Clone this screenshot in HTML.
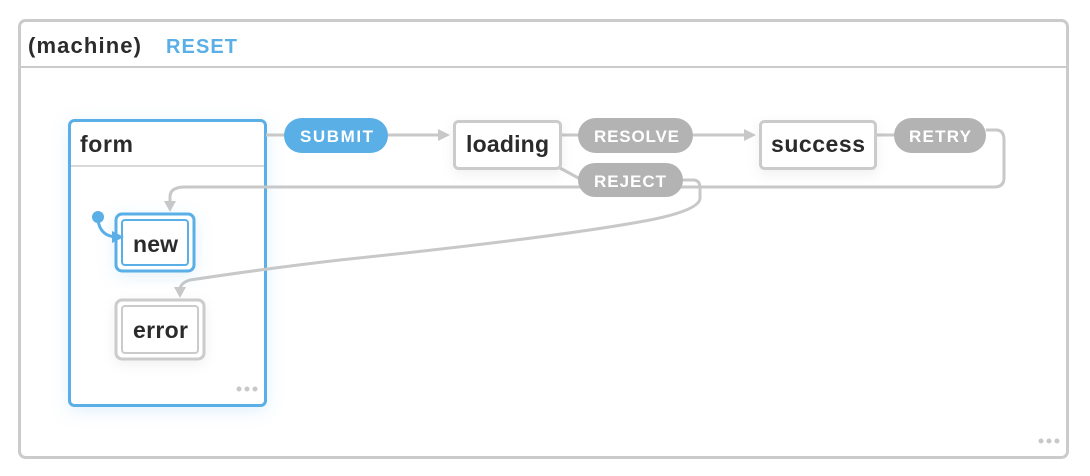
<!DOCTYPE html>
<html><head><meta charset="utf-8"><style>
html,body{margin:0;padding:0;background:#fff;width:1090px;height:476px;overflow:hidden}
svg text{font-family:"Liberation Sans",Arial,sans-serif;font-weight:bold}
</style></head><body>
<svg width="1090" height="476" viewBox="0 0 1090 476" xmlns="http://www.w3.org/2000/svg">
<defs>
<filter id="sh" x="-30%" y="-30%" width="160%" height="160%"><feDropShadow dx="0" dy="4" stdDeviation="6" flood-color="#000" flood-opacity="0.06"/></filter>
<filter id="shb" x="-30%" y="-30%" width="160%" height="160%"><feDropShadow dx="0" dy="4" stdDeviation="8" flood-color="#5aafe6" flood-opacity="0.18"/></filter>
</defs>
<rect x="19.5" y="20.5" width="1048" height="437" rx="6" fill="#fff" stroke="#cbcbcb" stroke-width="3"/>
<line x1="20" y1="67" x2="1067" y2="67" stroke="#cbcbcb" stroke-width="2"/>
<text x="28" y="53" font-size="22" fill="#2b2b2b" textLength="113">(machine)</text>
<text x="166" y="53" font-size="20" fill="#5aafe6" textLength="71">RESET</text>
<circle cx="1041" cy="441" r="2.5" fill="#c8c8c8"/><circle cx="1049" cy="441" r="2.5" fill="#c8c8c8"/><circle cx="1057" cy="441" r="2.5" fill="#c8c8c8"/>

<rect x="69.5" y="120.5" width="196" height="285" rx="5" fill="#fff" stroke="#5aafe6" stroke-width="3" filter="url(#shb)"/>
<line x1="71" y1="166" x2="264" y2="166" stroke="#cbcbcb" stroke-width="1.5"/>
<text x="80" y="152" font-size="23" fill="#2b2b2b" textLength="53">form</text>
<circle cx="239" cy="389" r="2.5" fill="#c8c8c8"/><circle cx="247" cy="389" r="2.5" fill="#c8c8c8"/><circle cx="255" cy="389" r="2.5" fill="#c8c8c8"/>

<g fill="none" stroke="#c8c8c8" stroke-width="3">
<path d="M266 135 H286"/>
<path d="M388 135 H440"/>
<path d="M561 135 H580"/>
<path d="M693 135 H746"/>
<path d="M876 135 H896"/>
<path d="M986 130 H996 Q1004 130 1004 140 V178 Q1004 187 994 187 H185 Q170 187 170 197 V204"/>
<path d="M560 168 L582 180"/>
<path d="M683 180 H693 Q700 180 700 188 V198 Q700 210 650 220 Q560 237 340 260 Q270 268 190 280 Q180 283 180 290"/>
</g>
<g fill="#c8c8c8">
<polygon points="438,129 450,135 438,141"/>
<polygon points="744,129 756,135 744,141"/>
<polygon points="164,201 176,201 170,212"/>
<polygon points="174,287 186,287 180,298"/>
</g>

<rect x="284" y="118" width="104" height="35" rx="17.5" fill="#5aafe6"/>
<text x="300" y="142" font-size="17" fill="#fff" textLength="73">SUBMIT</text>
<rect x="578" y="118" width="115" height="35" rx="17.5" fill="#b3b3b3"/>
<text x="594" y="142" font-size="17" fill="#fff" textLength="85">RESOLVE</text>
<rect x="894" y="118" width="92" height="35" rx="17.5" fill="#b3b3b3"/>
<text x="909" y="142" font-size="17" fill="#fff" textLength="62">RETRY</text>
<rect x="578" y="163" width="105" height="34" rx="17" fill="#b3b3b3"/>
<text x="594" y="187" font-size="17" fill="#fff" textLength="72">REJECT</text>

<rect x="454.5" y="121.5" width="106" height="47" rx="4" fill="#fff" stroke="#cbcbcb" stroke-width="3" filter="url(#sh)"/>
<text x="466" y="152" font-size="23" fill="#2b2b2b" textLength="83">loading</text>
<rect x="760.5" y="121.5" width="115" height="47" rx="4" fill="#fff" stroke="#cbcbcb" stroke-width="3" filter="url(#sh)"/>
<text x="771" y="152" font-size="23" fill="#2b2b2b" textLength="94">success</text>

<rect x="116" y="214" width="78" height="57" rx="6" fill="#fff" stroke="#5aafe6" stroke-width="3" filter="url(#shb)"/>
<rect x="122" y="220" width="66" height="45" rx="3" fill="#fff" stroke="#5aafe6" stroke-width="2"/>
<text x="133" y="252" font-size="23" fill="#2b2b2b" textLength="45">new</text>
<rect x="116" y="300" width="88" height="59" rx="6" fill="#fff" stroke="#cbcbcb" stroke-width="3" filter="url(#sh)"/>
<rect x="122" y="306" width="76" height="47" rx="3" fill="#fff" stroke="#cbcbcb" stroke-width="2"/>
<text x="133" y="338" font-size="23" fill="#2b2b2b" textLength="55">error</text>

<circle cx="98" cy="217" r="6" fill="#5aafe6"/>
<path d="M98 220 Q100 236 116 237" fill="none" stroke="#5aafe6" stroke-width="3"/>
<polygon points="112,231 124,237 112,243" fill="#5aafe6"/>
</svg>
</body></html>
